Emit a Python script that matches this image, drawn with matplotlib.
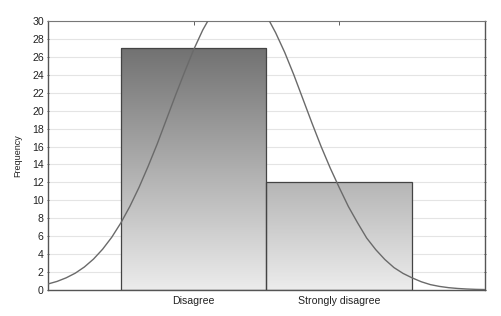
import numpy as np
import matplotlib
matplotlib.use("Agg")
import matplotlib.pyplot as plt
from matplotlib.colors import LinearSegmentedColormap, Normalize

plt.rcParams['font.family'] = ['Liberation Sans', 'DejaVu Sans']

categories = ["Disagree", "Strongly disagree"]
counts = [27, 12]
# normal curve (x in category units, 0..3)
curve_x = [0.0, 0.0625, 0.125, 0.1875, 0.25, 0.3125, 0.375, 0.4375, 0.5, 0.5625,
           0.625, 0.6875, 0.75, 0.8125, 0.875, 0.9375, 1.0, 1.0625, 1.125, 1.1875,
           1.25, 1.3125, 1.375, 1.4375, 1.5, 1.5625, 1.625, 1.6875, 1.75, 1.8125,
           1.875, 1.9375, 2.0, 2.0625, 2.125, 2.1875, 2.25, 2.3125, 2.375, 2.4375,
           2.5, 2.5625, 2.625, 2.6875, 2.75, 2.8125, 2.875, 2.9375, 3.0]
curve_y = [0.67, 0.96, 1.36, 1.88, 2.57, 3.45, 4.55, 5.88, 7.48, 9.34,
           11.45, 13.8, 16.3, 19.0, 21.7, 24.3, 26.8, 29.0, 30.8, 32.2,
           33.0, 33.3, 33.0, 32.0, 30.6, 28.7, 26.5, 24.0, 21.3, 18.6,
           16.0, 13.6, 11.4, 9.3, 7.5, 5.8, 4.5, 3.4, 2.5, 1.85,
           1.35, 0.92, 0.6, 0.4, 0.26, 0.17, 0.11, 0.07, 0.05]
yticks = list(range(0, 31, 2))

fig = plt.figure(figsize=(5.02, 3.16), dpi=100)
ax = fig.add_axes([48/502, 26/316, 437/502, 269/316])

positions = [1, 2]
cmap = LinearSegmentedColormap.from_list("g", ["#ececec", "#717171"])
norm = Normalize(vmin=0, vmax=27)
grad = np.linspace(0, 1, 256).reshape(-1, 1)

for pos, h in zip(positions, counts):
    bars = ax.bar(pos, h, width=1.0, facecolor="none", edgecolor="#444444",
                  linewidth=0.9, zorder=3)
    rect = bars[0]
    img = ax.imshow(grad * h, extent=[pos - 0.5, pos + 0.5, 0, h], origin="lower",
                    cmap=cmap, norm=norm, aspect="auto", zorder=2)
    img.set_clip_path(rect)

ax.plot(curve_x, curve_y, color="#6a6a6a", linewidth=1.0, zorder=4)

ax.set_xlim(0, 3)
ax.set_ylim(0, 30)
ax.set_yticks(yticks)
ax.set_xticks(positions)
ax.set_xticklabels(categories, fontsize=7.6, color="#222222")
ax.tick_params(axis='y', labelsize=7.6, labelcolor="#222222", length=2, width=0.6,
               color="#444444", pad=2, right=True, direction='inout')
ax.tick_params(axis='x', length=3, width=0.6, color="#444444", direction='in',
               top=True, pad=4)
ax.yaxis.grid(True, color="#e4e4e4", linewidth=0.8, zorder=0)
ax.set_axisbelow(True)
for side in ["left", "bottom", "right"]:
    ax.spines[side].set_color("#555555")
    ax.spines[side].set_linewidth(1.0)
ax.spines["top"].set_color("#777777")
ax.spines["top"].set_linewidth(0.8)
ax.set_ylabel("Frequency", fontsize=6.5, labelpad=7, color="#222222")

fig.savefig("out.png", dpi=100)
